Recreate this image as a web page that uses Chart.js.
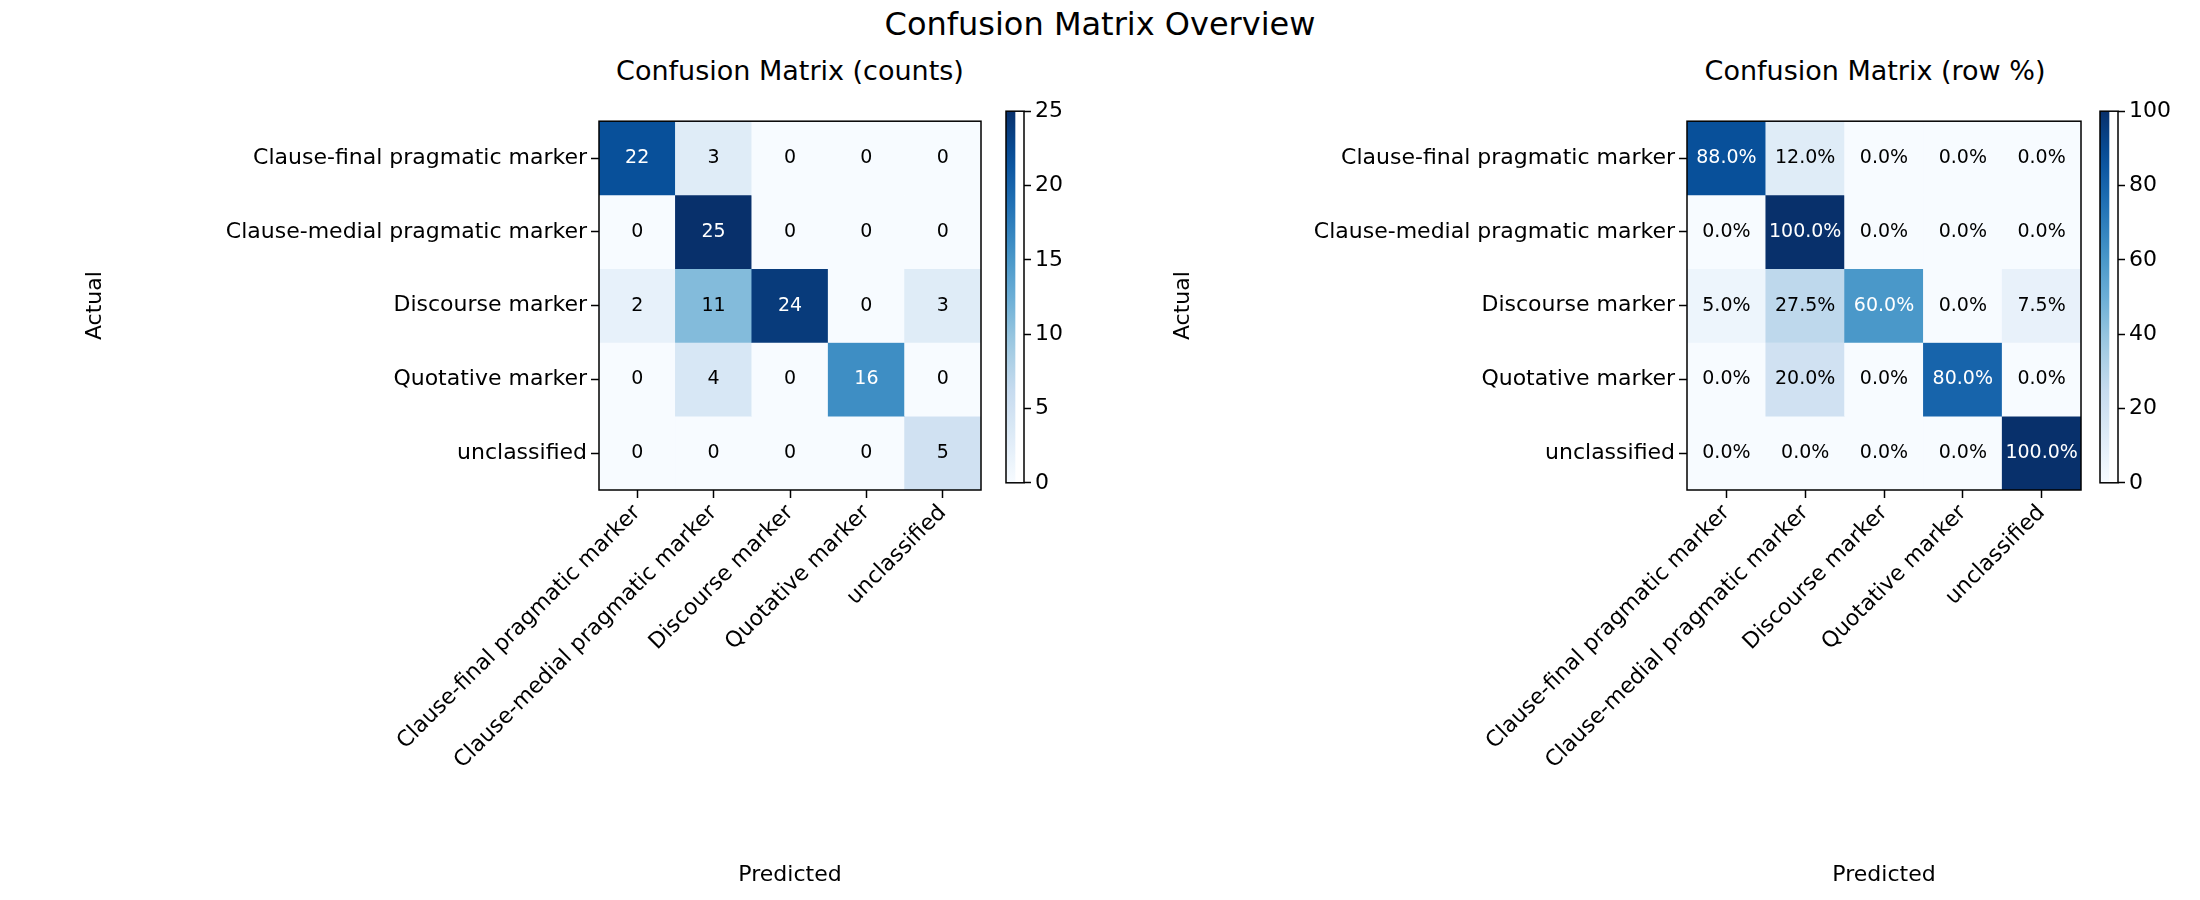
<!DOCTYPE html>
<html><head><meta charset="utf-8">
<script src="https://cdn.jsdelivr.net/npm/chart.js@4.4.1/dist/chart.umd.min.js"></script>
<style>
body{margin:0;width:2200px;height:900px;background:#fff;position:relative;overflow:hidden;font-family:"DejaVu Sans";}
canvas{position:absolute;}
.t{position:absolute;color:#000;white-space:nowrap;transform:translateX(-50%);font-family:"DejaVu Sans";}
</style></head><body>
<div class="t" style="left:1100px;top:5px;font-size:32px;">Confusion Matrix Overview</div>
<div class="t" style="left:790px;top:55px;font-size:27px;">Confusion Matrix (counts)</div>
<div class="t" style="left:1875px;top:55px;font-size:27px;">Confusion Matrix (row %)</div>
<div id="c1w" style="position:absolute;left:0;top:104px;width:1000px;height:796px"><canvas id="c1"></canvas></div>
<div id="c2w" style="position:absolute;left:1100px;top:104px;width:1000px;height:796px"><canvas id="c2"></canvas></div>
<div style="position:absolute;left:1000px;top:94px;width:100px;height:406px"><canvas id="cb1"></canvas></div>
<div style="position:absolute;left:2094px;top:94px;width:106px;height:406px"><canvas id="cb2"></canvas></div>
<script>
const categories = ["Clause-final pragmatic marker","Clause-medial pragmatic marker","Discourse marker","Quotative marker","unclassified"];
const counts = [
  [22,3,0,0,0],
  [0,25,0,0,0],
  [2,11,24,0,3],
  [0,4,0,16,0],
  [0,0,0,0,5]
];
const rowPct = [
  [88.0,12.0,0.0,0.0,0.0],
  [0.0,100.0,0.0,0.0,0.0],
  [5.0,27.5,60.0,0.0,7.5],
  [0.0,20.0,0.0,80.0,0.0],
  [0.0,0.0,0.0,0.0,100.0]
];
const countTicks = [0,5,10,15,20,25];
const pctTicks = [0,20,40,60,80,100];

const blues = ["#f7fbff","#deebf7","#c6dbef","#9ecae1","#6baed6","#4292c6","#2171b5","#08519c","#08306b"];
function hex(h){return [1,3,5].map(i=>parseInt(h.substr(i,2),16));}
function cmap(t){t=Math.max(0,Math.min(1,t));const p=t*(blues.length-1);const i=Math.min(Math.floor(p),blues.length-2);const f=p-i;const a=hex(blues[i]),b=hex(blues[i+1]);return `rgb(${a.map((v,k)=>Math.round(v+(b[k]-v)*f)).join(',')})`;}
const FONT="DejaVu Sans";
Chart.defaults.font.family=FONT;
Chart.defaults.color="#000";

const framePlugin={id:'frame',afterDraw(ch){const a=ch.chartArea,c=ch.ctx;c.save();c.strokeStyle='#000';c.lineWidth=1.5;c.strokeRect(a.left,a.top,a.right-a.left,a.bottom-a.top);c.restore();}};

function heat(id,vals,vmax,fmt,fsize,padLeft){
  const datasets=vals.map((row,r)=>({data:row.map(v=>[r-0.5,r+0.5]),backgroundColor:row.map(v=>cmap(v/vmax)),borderWidth:0,barPercentage:1,categoryPercentage:1,grouped:false}));
  const txt={id:'txt',afterDatasetsDraw(ch){const c=ch.ctx,xs=ch.scales.x,ys=ch.scales.y;c.save();c.font=fsize+"px "+FONT;c.textAlign='center';c.textBaseline='middle';
    vals.forEach((row,r)=>row.forEach((v,k)=>{c.fillStyle=v>vmax/2?'#fff':'#000';c.fillText(fmt(v),xs.getPixelForValue(k),ys.getPixelForValue(r));}));c.restore();}};
  new Chart(document.getElementById(id),{type:'bar',data:{labels:categories,datasets},
    options:{responsive:true,maintainAspectRatio:false,animation:false,events:[],
      layout:{padding:{left:padLeft,right:19,top:0,bottom:0}},
      plugins:{legend:{display:false},tooltip:{enabled:false}},
      scales:{
        x:{type:'category',offset:true,grid:{offset:false,drawOnChartArea:false,drawTicks:true,tickLength:8,tickColor:'#000',tickWidth:1.5},border:{display:false},
          ticks:{maxRotation:45,minRotation:45,autoSkip:false,font:{size:22},color:'#000',padding:2},
          title:{display:true,text:'Predicted',font:{size:22},color:'#000',padding:{top:0,bottom:12}},
          afterFit(s){s.height=410;}},
        y:{type:'linear',min:-0.5,max:4.5,reverse:true,grid:{drawOnChartArea:false,drawTicks:true,tickLength:8,tickColor:'#000',tickWidth:1.5},border:{display:false},
          afterBuildTicks(s){s.ticks=categories.map((_,i)=>({value:i}));},
          ticks:{callback:(v)=>categories[v],font:{size:22},color:'#000',padding:4},
          title:{display:true,text:'Actual',font:{size:22},color:'#000',padding:4},
          afterFit(s){s.width=521;}}
      }},plugins:[txt,framePlugin]});
}
function cbar(id,vmax,ticks){
  new Chart(document.getElementById(id),{type:'bar',data:{labels:[''],datasets:[{data:[[0,vmax]],barPercentage:1,categoryPercentage:1,borderWidth:0,
    backgroundColor(ctx){const a=ctx.chart.chartArea;if(!a)return '#fff';const g=ctx.chart.ctx.createLinearGradient(0,a.bottom,0,a.top);for(let i=0;i<=20;i++)g.addColorStop(i/20,cmap(i/20));return g;}}]},
    options:{responsive:true,maintainAspectRatio:false,animation:false,events:[],
      layout:{padding:{left:6,right:0,top:10,bottom:10}},
      plugins:{legend:{display:false},tooltip:{enabled:false}},
      scales:{x:{display:false,offset:false},
        y:{position:'right',min:0,max:vmax,afterBuildTicks(s){s.ticks=ticks.map(v=>({value:v}));},
          grid:{drawOnChartArea:false,drawTicks:true,tickLength:7,tickColor:'#000',tickWidth:1.5},border:{display:false},
          ticks:{font:{size:22},color:'#000',padding:4},afterFit(s){s.width=id==='cb1'?76:82;}}}},
    plugins:[framePlugin]});
}
heat('c1',counts,25,v=>String(v),19,78);
heat('c2',rowPct,100,v=>v.toFixed(1)+'%',19,66);
cbar('cb1',25,countTicks);
cbar('cb2',100,pctTicks);
</script></body></html>
